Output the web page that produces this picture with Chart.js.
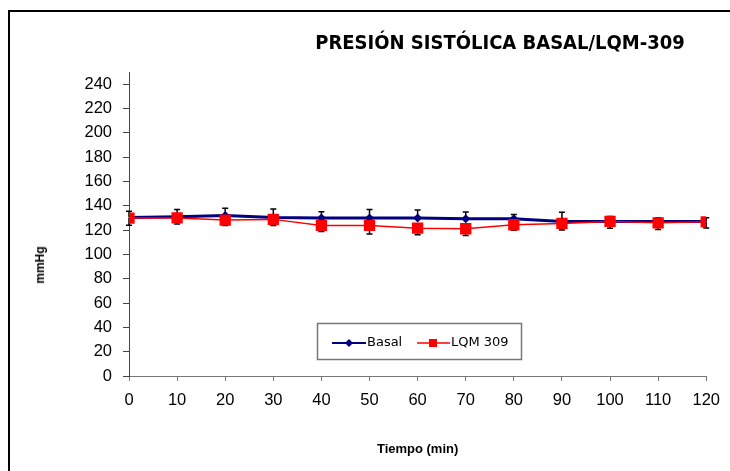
<!DOCTYPE html>
<html>
<head>
<meta charset="utf-8">
<script src="https://cdn.jsdelivr.net/npm/chart.js@4/dist/chart.umd.min.js"></script>
<style>
html, body { margin: 0; padding: 0; background: #fff; overflow: hidden; }
#wrap { position: relative; width: 730px; height: 471px; }
#frame { position: absolute; left: 8px; top: 10px; width: 900px; height: 700px; border: 2px solid #000; }
#title { position: absolute; left: 290px; width: 420px; top: 30px; text-align: center;
  font: bold 20px "DejaVu Sans Condensed", "DejaVu Sans", sans-serif; color: #000; }
#ytitle { position: absolute; left: 40px; top: 265px; transform: translate(-50%, -50%) rotate(-90deg);
  font: bold 12px "Liberation Sans", Arial, sans-serif; color: #000; white-space: nowrap; }
canvas { position: absolute; left: 0; top: 0; }
</style>
</head>
<body>
<div id="wrap">
  <div id="frame"></div>
  <canvas id="myChart" width="730" height="471"></canvas>
  <div id="title">PRESIÓN SISTÓLICA BASAL/LQM-309</div>
  <div id="ytitle">mmHg</div>
</div>
<script>
// tiempo (min) y presión sistólica media de cada grupo
const tiempos = [0, 10, 20, 30, 40, 50, 60, 70, 80, 90, 100, 110, 120];
const basal = [130.4, 131, 132, 130.4, 130, 130, 130, 129.3, 129.3, 127.1, 127.1, 127.1, 127.1];
const basalErr = [5, 6, 6, 7, 5, 7, 6.5, 5.5, 3.5, 7.5, 4, 3, 3];
const lqm = [129.9, 130, 128.2, 128.8, 123.8, 123.8, 121.6, 121.1, 124.4, 125.5, 127.1, 126, 126.8];
const lqmErr = [6, 5, 4.5, 5, 5, 7, 5.5, 5.5, 4.5, 5.5, 5.5, 5.5, 5];
const yTicks = [0, 20, 40, 60, 80, 100, 120, 140, 160, 180, 200, 220, 240];

function toPoints(values)
{
    return tiempos.map((t, i) => ({ x: t, y: values[i] }));
}

// barras de error: Basal hacia arriba, LQM 309 hacia abajo
const errorBars = {
    id: 'errorBars',
    beforeDatasetsDraw(chart) {
        const ctx = chart.ctx;
        const xs = chart.scales.x;
        const ys = chart.scales.y;
        ctx.save();
        ctx.strokeStyle = '#000';
        ctx.lineWidth = 1.5;
        const bar = (t, from, to) => {
            const px = xs.getPixelForValue(t);
            const p0 = ys.getPixelForValue(from);
            const p1 = ys.getPixelForValue(to);
            ctx.beginPath();
            ctx.moveTo(px, p0);
            ctx.lineTo(px, p1);
            ctx.moveTo(px - 3, p1);
            ctx.lineTo(px + 3, p1);
            ctx.stroke();
        };
        for (let i = 0; i < tiempos.length; i++) {
            bar(tiempos[i], basal[i], basal[i] + basalErr[i]);
            bar(tiempos[i], lqm[i], lqm[i] - lqmErr[i]);
        }
        ctx.restore();
    }
};

// leyenda en recuadro dentro del área de trazado
const boxLegend = {
    id: 'boxLegend',
    afterDraw(chart) {
        const ctx = chart.ctx;
        const x0 = 317, y0 = 323, w = 204, h = 36;
        const cy = y0 + 20;
        ctx.save();
        ctx.fillStyle = '#fff';
        ctx.fillRect(x0, y0, w, h);
        ctx.strokeStyle = '#777';
        ctx.lineWidth = 1.5;
        ctx.strokeRect(x0 + 0.5, y0 + 0.5, w, h);

        ctx.strokeStyle = '#000080';
        ctx.lineWidth = 2;
        ctx.beginPath();
        ctx.moveTo(332, cy);
        ctx.lineTo(366, cy);
        ctx.stroke();
        ctx.fillStyle = '#000080';
        ctx.beginPath();
        ctx.moveTo(349, cy - 4);
        ctx.lineTo(353, cy);
        ctx.lineTo(349, cy + 4);
        ctx.lineTo(345, cy);
        ctx.closePath();
        ctx.fill();

        ctx.strokeStyle = '#ff0000';
        ctx.lineWidth = 1.5;
        ctx.beginPath();
        ctx.moveTo(417, cy);
        ctx.lineTo(450, cy);
        ctx.stroke();
        ctx.fillStyle = '#ff0000';
        ctx.fillRect(429, cy - 4, 8, 8);

        ctx.fillStyle = '#000';
        ctx.font = '13px "DejaVu Sans", sans-serif';
        ctx.textBaseline = 'middle';
        ctx.fillText('Basal', 367, cy);
        ctx.fillText('LQM 309', 451, cy);
        ctx.restore();
    }
};

const ctx = document.getElementById('myChart').getContext('2d');
new Chart(ctx, {
    type: 'line',
    data: {
        datasets: [{
            label: 'LQM 309',
            data: toPoints(lqm),
            borderColor: '#ff0000',
            backgroundColor: '#ff0000',
            borderWidth: 1.5,
            pointStyle: 'rect',
            pointRadius: 8,
            pointBorderWidth: 0,
            order: 1
        }, {
            label: 'Basal',
            data: toPoints(basal),
            borderColor: '#000080',
            backgroundColor: '#000080',
            borderWidth: 3,
            pointStyle: 'rectRot',
            pointRadius: 4.5,
            pointBorderWidth: 0,
            order: 2
        }]
    },
    options: {
        responsive: false,
        animation: false,
        layout: { padding: { left: 0, right: 20, top: 72, bottom: 8 } },
        plugins: {
            legend: { display: false },
            tooltip: { enabled: false }
        },
        scales: {
            x: {
                type: 'linear',
                min: 0,
                max: 120,
                ticks: { stepSize: 10, color: '#000', padding: 10,
                    font: { family: 'Liberation Sans', size: 16.5 } },
                grid: { drawOnChartArea: false, tickLength: 5, color: '#777' },
                border: { color: '#777', width: 1 },
                title: { display: true, text: 'Tiempo (min)', color: '#000', padding: { top: 0, bottom: 6 },
                    font: { family: 'Liberation Sans', size: 13, weight: 'bold' } },
                afterFit(scale) { scale.height = 471 - 376 - 8; }
            },
            y: {
                min: 0,
                max: 250,
                ticks: { stepSize: 20, color: '#000', padding: 11,
                    font: { family: 'Liberation Sans', size: 16.5 } },
                afterBuildTicks(scale) {
                    scale.ticks = yTicks.map(v => ({ value: v }));
                },
                grid: { drawOnChartArea: false, tickLength: 6, color: '#444' },
                border: { color: '#444', width: 1 },
                afterFit(scale) { scale.width = 129; }
            }
        }
    },
    plugins: [errorBars, boxLegend]
});
</script>
</body>
</html>
